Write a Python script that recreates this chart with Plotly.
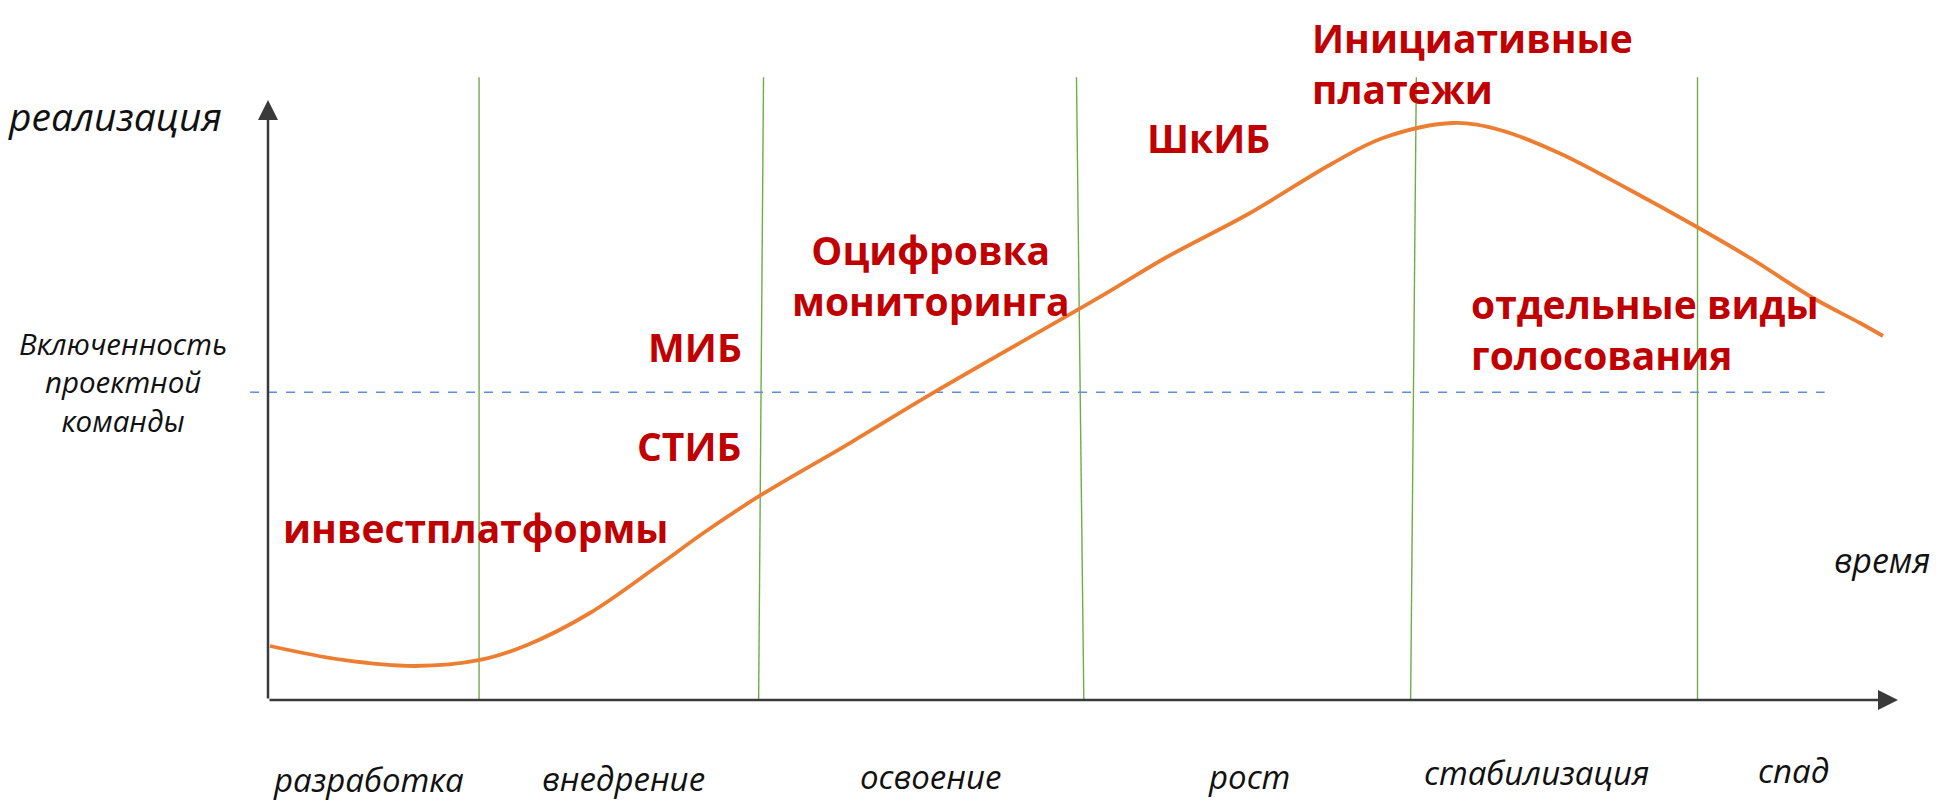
import plotly.graph_objects as go

# ---------------- data (time units 0..100, realization units 0..100) ----------------
curve_t = [0.12, 4.6, 9.02, 13.0, 15.9, 19.75, 23.99, 26.8, 30.25, 35.7, 40.8, 51.04,
           55.15, 60.25, 65.34, 68.4, 72.7, 75.58, 79.2, 83.56, 87.67,
           90.92, 94.79, 97.67, 99.08]
curve_r = [9.0, 6.67, 5.67, 6.67, 9.17, 14.5, 22.5, 28.0, 34.17, 42.83, 51.17, 67.17,
           73.83, 81.17, 89.5, 93.67, 96.17, 95.0, 91.17, 85.0, 78.83,
           73.67, 67.0, 62.83, 60.67]

boundary_top = [12.95, 30.4, 49.6, 70.45, 87.7]      # phase borders at top
boundary_bottom = [12.95, 30.1, 50.05, 70.1, 87.7]   # phase borders at bottom
boundary_height = 103.8

phase_names = ["разработка", "внедрение", "освоение", "рост", "стабилизация", "спад"]
phase_label_t = [6.15, 21.8, 40.65, 60.2, 77.8, 93.6]
phase_label_r = [-13.2, -13.1, -12.8, -12.8, -12.1, -11.8]

team_level = 51.3
team_from, team_to = -1.1, 95.5

T_MAX, R_MAX = 100, 100

projects = ["инвестплатформы", "СТИБ", "МИБ", "Оцифровка<br>мониторинга", "ШкИБ",
            "Инициативные<br>платежи", "отдельные виды<br>голосования"]
project_t = [12.7, 29.15, 29.2, 40.67, 57.7, 63.9, 73.7]
project_r = [28.8, 42.5, 59.0, 70.8, 93.7, 106.25, 61.8]
project_anchor = ["center", "right", "right", "center", "center", "left", "left"]

# ---------------- figure ----------------
W, H = 1936, 801
X0, XS = 268, 16.3
Y0, YS = 700, 6.0
x_range = [-X0 / XS, (W - X0) / XS]
y_range = [(Y0 - H) / YS, Y0 / YS]

fig = go.Figure()

# phase borders
for bt, bb in zip(boundary_top, boundary_bottom):
    fig.add_trace(go.Scatter(x=[bb, bt], y=[0, boundary_height], mode="lines",
                             line=dict(color="#70AD47", width=1.4),
                             hoverinfo="skip", showlegend=False))

# team involvement level
fig.add_trace(go.Scatter(x=[team_from, team_to], y=[team_level, team_level], mode="lines",
                         line=dict(color="#5E8EDB", width=1.5, dash="dash"),
                         hoverinfo="skip", showlegend=False))

# life-cycle curve
fig.add_trace(go.Scatter(x=curve_t, y=curve_r, mode="lines",
                         line=dict(color="#ED7D31", width=3.8, shape="spline", smoothing=1.0),
                         hoverinfo="skip", showlegend=False))

# axes arrows
fig.add_annotation(x=T_MAX, y=0, ax=0, ay=0, xref="x", yref="y", axref="x", ayref="y",
                   showarrow=True, arrowhead=2, arrowsize=1.6, arrowwidth=2.5,
                   arrowcolor="#3a3a3a", text="")
fig.add_annotation(x=0, y=R_MAX, ax=0, ay=0, xref="x", yref="y", axref="x", ayref="y",
                   showarrow=True, arrowhead=2, arrowsize=1.6, arrowwidth=2.5,
                   arrowcolor="#3a3a3a", text="")

italic_font = "Open Sans"
fig.add_annotation(x=-9.39, y=97.5, text="<i>реализация</i>", showarrow=False,
                   font=dict(family=italic_font, size=39, color="#111"), xanchor="center", yanchor="middle")
fig.add_annotation(x=-8.9, y=53.0, text="<i>Включенность<br>проектной<br>команды</i>", showarrow=False,
                   font=dict(family=italic_font, size=29.5, color="#111"), xanchor="center", yanchor="middle")
fig.add_annotation(x=102.1, y=23.3, text="<i>время</i>", showarrow=False,
                   font=dict(family=italic_font, size=34, color="#111"), xanchor="right", yanchor="middle")

for name, t, r in zip(phase_names, phase_label_t, phase_label_r):
    fig.add_annotation(x=t, y=r, text=f"<i>{name}</i>", showarrow=False,
                       font=dict(family=italic_font, size=33, color="#111"),
                       xanchor="center", yanchor="middle")

for name, t, r, anc in zip(projects, project_t, project_r, project_anchor):
    fig.add_annotation(x=t, y=r, text=f"<b>{name}</b>", showarrow=False, align=anc,
                       font=dict(family="Open Sans", size=39, color="#C00000"),
                       xanchor=anc, yanchor="middle")

fig.update_layout(width=W, height=H, margin=dict(l=0, r=0, t=0, b=0),
                  paper_bgcolor="white", plot_bgcolor="white",
                  xaxis=dict(range=x_range, visible=False, fixedrange=True),
                  yaxis=dict(range=y_range, visible=False, fixedrange=True),
                  showlegend=False)

fig.write_html("out.html", config={"displayModeBar": False},
               post_script="document.body.style.margin='0';document.body.style.overflow='hidden';")
